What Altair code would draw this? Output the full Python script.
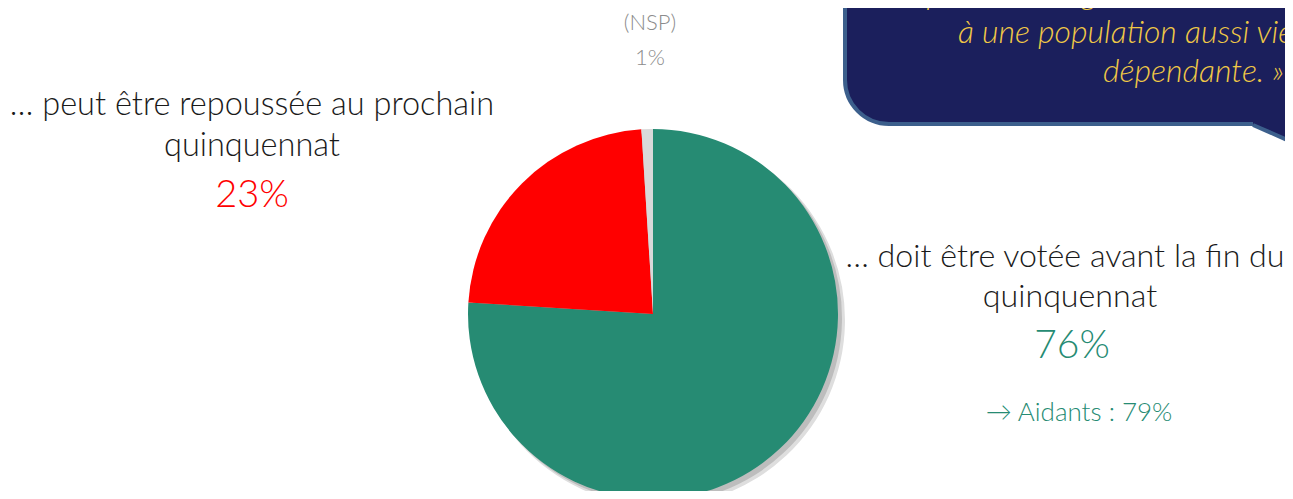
import altair as alt
import pandas as pd

# ---- data ----
categories = ["doit être votée avant la fin du quinquennat",
              "peut être repoussée au prochain quinquennat",
              "(NSP)"]
shares = [76, 23, 1]
slice_colors = ["#268B73", "#FF0000", "#D9D9D9"]

left_lines = ["… peut être repoussée au prochain", "quinquennat"]
left_pct = "23%"
right_lines = ["… doit être votée avant la fin du", "quinquennat"]
right_pct = "76%"
right_note = "→ Aidants : 79%"
nsp_lines = ["(NSP)", "1%"]
quote_lines = ["de personnes âgées, la société n’est pas prête à faire face",
               "à une population aussi vieillissante et",
               "dépendante. »"]

W, H = 1277, 483
FONT = "Lato"
CX, CY, R = 645, 306, 185

pie_df = pd.DataFrame({"cat": categories, "value": shares, "order": list(range(len(shares)))})

base_pie = alt.Chart(pie_df)
shadow1 = base_pie.mark_arc(outerRadius=R + 1, color="#DEDEDE").encode(
    theta=alt.Theta("value:Q", stack=True), order=alt.Order("order:Q"),
    x=alt.value(CX + 6), y=alt.value(CY + 6))
shadow2 = base_pie.mark_arc(outerRadius=R, color="#BDBDBD").encode(
    theta=alt.Theta("value:Q", stack=True), order=alt.Order("order:Q"),
    x=alt.value(CX + 4), y=alt.value(CY + 4))
pie = base_pie.mark_arc(outerRadius=R).encode(
    theta=alt.Theta("value:Q", stack=True),
    color=alt.Color("cat:N", scale=alt.Scale(domain=categories, range=slice_colors), legend=None),
    order=alt.Order("order:Q"),
    x=alt.value(CX), y=alt.value(CY))

# ---- callout box ----
box = alt.Chart(pd.DataFrame({"a": [0]})).mark_rect(
    fill="#1B1F5C", stroke="#3C5F8C", strokeWidth=4, cornerRadius=44, clip=True
).encode(x=alt.value(837), x2=alt.value(1400), y=alt.value(-100), y2=alt.value(116))

tail_df = pd.DataFrame({"x": [1245, 1300], "y": [112, 112], "y2": [117, 141]})
tail_fill = alt.Chart(tail_df).mark_area(color="#1B1F5C", clip=True).encode(
    x=alt.X("x:Q", scale=None), y=alt.Y("y:Q", scale=None), y2="y2:Q")
tail_line = alt.Chart(tail_df).mark_line(color="#3C5F8C", strokeWidth=4, clip=True).encode(
    x=alt.X("x:Q", scale=None), y=alt.Y("y2:Q", scale=None))

def txt(text, x, y, size, color, align="center", style="normal", weight=300, clip=False):
    return alt.Chart(pd.DataFrame({"t": [text]})).mark_text(
        font=FONT, fontSize=size, color=color, align=align, baseline="alphabetic",
        fontStyle=style, fontWeight=weight, clip=clip
    ).encode(text="t:N", x=alt.value(x), y=alt.value(y))

quote_x = [879, 950, 1095]
quote_y = [-4, 35, 74]
quotes = [txt(quote_lines[i], quote_x[i], quote_y[i], 32, "#F0C846", align="left",
              style="italic", clip=True)
          for i in range(3)]

texts = [
    txt(nsp_lines[0], 642, 22, 22, "#8C8C8C"),
    txt(nsp_lines[1], 642, 57, 22, "#8C8C8C"),
    txt(left_lines[0], 244, 107, 32.5, "#1A1A1A"),
    txt(left_lines[1], 244, 148, 32.5, "#1A1A1A"),
    txt(left_pct, 244, 199, 38, "#FF0000"),
    txt(right_lines[0], 1057, 259, 32.2, "#1A1A1A"),
    txt(right_lines[1], 1062, 299, 32.2, "#1A1A1A"),
    txt(right_pct, 1064, 350, 39, "#268B73"),
    txt(right_note, 1071, 413, 26, "#268B73"),
]

chart = alt.layer(box, tail_fill, tail_line, *quotes, shadow1, shadow2, pie, *texts).properties(
    width=W, height=H, padding=0, autosize=alt.AutoSizeParams(type="none")
).configure_view(stroke=None)

chart.save("out.html", embed_options={"renderer": "svg", "actions": False})
